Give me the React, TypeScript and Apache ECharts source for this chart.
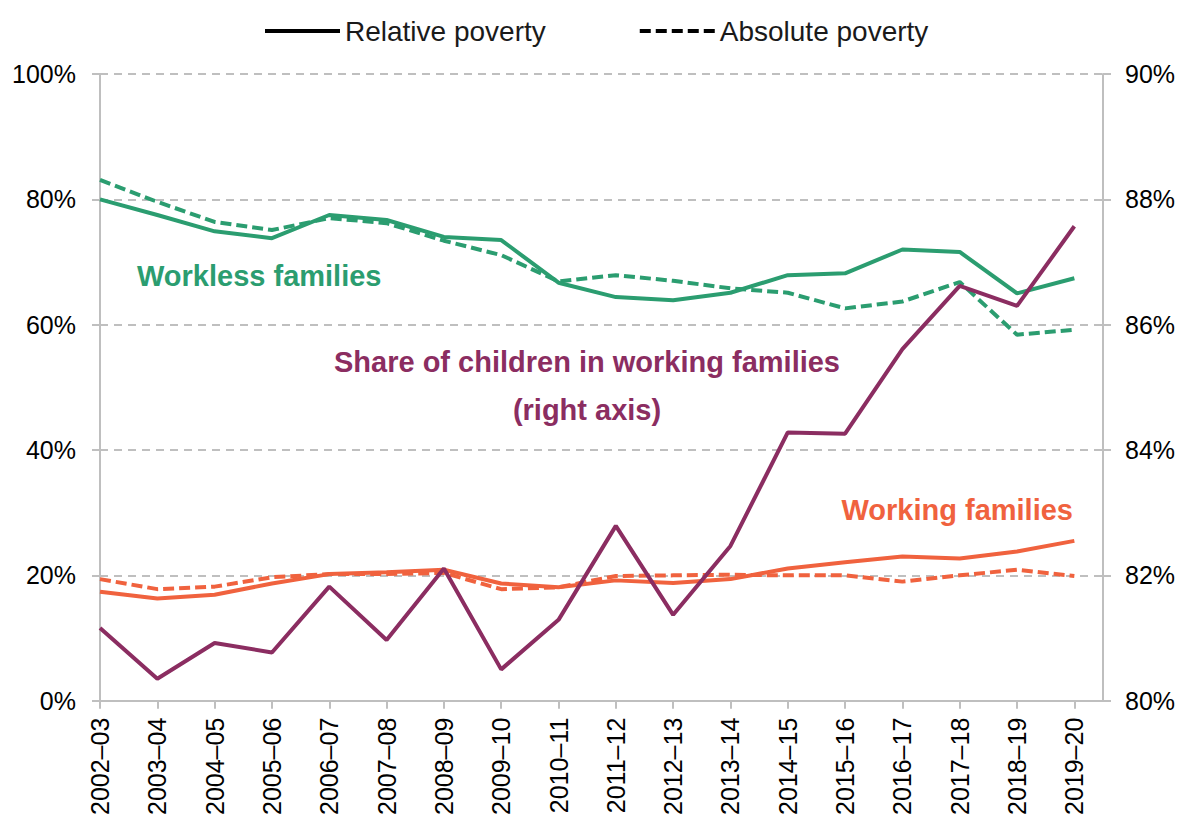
import React, { useEffect, useRef } from 'react';
import * as echarts from 'echarts';

const years = [
  '2002–03', '2003–04', '2004–05', '2005–06', '2006–07', '2007–08',
  '2008–09', '2009–10', '2010–11', '2011–12', '2012–13', '2013–14',
  '2014–15', '2015–16', '2016–17', '2017–18', '2018–19', '2019–20',
];

// left axis, % of children in poverty
const worklessRelative = [80.0, 77.5, 74.9, 73.8, 77.5, 76.7, 74.0, 73.5, 66.7, 64.4, 63.9, 65.1, 67.9, 68.2, 72.0, 71.6, 65.0, 67.4];
const worklessAbsolute = [83.1, 79.6, 76.4, 75.1, 77.0, 76.2, 73.4, 71.1, 66.9, 67.9, 67.0, 65.8, 65.1, 62.6, 63.7, 66.8, 58.4, 59.2];
const workingRelative = [17.4, 16.3, 16.9, 18.7, 20.2, 20.5, 20.9, 18.7, 18.1, 19.2, 18.8, 19.4, 21.1, 22.1, 23.0, 22.7, 23.8, 25.5];
const workingAbsolute = [19.4, 17.8, 18.2, 19.7, 20.2, 20.2, 20.4, 17.8, 18.1, 19.9, 20.0, 20.1, 20.0, 20.0, 19.0, 20.0, 20.9, 19.9];

// right axis, share of children in working families
const shareWorking = [81.16, 80.35, 80.92, 80.77, 81.82, 80.97, 82.11, 80.5, 81.29, 82.79, 81.37, 82.47, 84.28, 84.26, 85.61, 86.62, 86.3, 87.57];

const leftTicks = [0, 20, 40, 60, 80, 100];
const rightTicks = [80, 82, 84, 86, 88, 90];

const GREEN = '#2b9d70';
const ORANGE = '#f0623e';
const PURPLE = '#8b2d61';
const GREY = '#bfbfbf';
const FONT = '"Liberation Sans", Arial, sans-serif';
const LW = 4;
const DASH = [11, 5];

const pairs = (arr: number[]) => arr.map((v, i) => [i, v]);

const App: React.FC = () => {
  const chartRef = useRef<HTMLDivElement>(null);

  useEffect(() => {
    if (!chartRef.current) return;
    const chart = echarts.init(chartRef.current, null, { renderer: 'svg' });
    const idx = years.map((_, i) => i);

    const option = {
      animation: false,
      textStyle: { fontFamily: FONT },
      grid: { left: 100, right: 78, top: 74, bottom: 120.3 },
      legend: {
        data: ['Relative poverty', 'Absolute poverty'],
        left: 258,
        top: 12,
        itemWidth: 75,
        itemHeight: 14,
        itemGap: 92,
        itemStyle: { opacity: 0 },
        lineStyle: { width: 4 },
        textStyle: { fontSize: 28, color: '#1a1a1a', fontFamily: FONT },
      },
      xAxis: {
        type: 'value',
        min: 0,
        max: 17.5,
        interval: 1,
        axisLine: { show: true, lineStyle: { color: GREY, width: 2 } },
        axisTick: { show: true, length: 8, lineStyle: { color: GREY, width: 2 }, customValues: idx },
        splitLine: { show: false },
        axisLabel: {
          customValues: idx,
          rotate: 90,
          margin: 17,
          fontSize: 25,
          color: '#000',
          fontFamily: FONT,
          formatter: (v: number) => (Number.isInteger(v) ? years[v] ?? '' : ''),
        },
      },
      yAxis: [
        {
          type: 'value',
          min: leftTicks[0],
          max: leftTicks[leftTicks.length - 1],
          interval: 20,
          axisLine: { show: true, lineStyle: { color: GREY, width: 2 } },
          axisTick: { show: true, length: 8, lineStyle: { color: GREY, width: 2 } },
          splitLine: { show: true, lineStyle: { color: GREY, type: [8, 6], width: 2 } },
          axisLabel: { margin: 24, fontSize: 25, color: '#000', fontFamily: FONT, formatter: '{value}%' },
        },
        {
          type: 'value',
          min: rightTicks[0],
          max: rightTicks[rightTicks.length - 1],
          interval: 2,
          position: 'right',
          axisLine: { show: true, lineStyle: { color: GREY, width: 2 } },
          axisTick: { show: true, length: 8, lineStyle: { color: GREY, width: 2 } },
          splitLine: { show: false },
          axisLabel: { margin: 22, fontSize: 25, color: '#000', fontFamily: FONT, formatter: '{value}%' },
        },
      ],
      series: [
        { name: 'Relative poverty', type: 'line', data: [], symbol: 'none', lineStyle: { color: '#000', width: LW }, itemStyle: { color: '#000' } },
        { name: 'Absolute poverty', type: 'line', data: [], symbol: 'none', lineStyle: { color: '#000', width: LW, type: DASH }, itemStyle: { color: '#000' } },
        { name: 'Working absolute', type: 'line', data: pairs(workingAbsolute), symbol: 'none', lineStyle: { color: ORANGE, width: LW, type: DASH } },
        { name: 'Working relative', type: 'line', data: pairs(workingRelative), symbol: 'none', lineStyle: { color: ORANGE, width: LW } },
        { name: 'Workless absolute', type: 'line', data: pairs(worklessAbsolute), symbol: 'none', lineStyle: { color: GREEN, width: LW, type: DASH } },
        { name: 'Workless relative', type: 'line', data: pairs(worklessRelative), symbol: 'none', lineStyle: { color: GREEN, width: LW } },
        { name: 'Share working', type: 'line', yAxisIndex: 1, data: pairs(shareWorking), symbol: 'none', lineStyle: { color: PURPLE, width: LW } },
      ],
      graphic: [
        {
          type: 'text', left: 137, top: 261,
          style: { text: 'Workless families', fill: GREEN, font: `bold 29px ${FONT}` },
        },
        {
          type: 'text', x: 587, y: 362,
          style: { text: 'Share of children in working families', fill: PURPLE, font: `bold 29px ${FONT}`, textAlign: 'center', textVerticalAlign: 'middle' },
        },
        {
          type: 'text', x: 587, y: 410,
          style: { text: '(right axis)', fill: PURPLE, font: `bold 29px ${FONT}`, textAlign: 'center', textVerticalAlign: 'middle' },
        },
        {
          type: 'text', x: 1073, y: 510,
          style: { text: 'Working families', fill: ORANGE, font: `bold 29px ${FONT}`, textAlign: 'right', textVerticalAlign: 'middle' },
        },
      ],
    };

    chart.setOption(option);
    return () => {
      chart.dispose();
    };
  }, []);

  return (
    <div
      ref={chartRef}
      style={{ position: 'absolute', left: 0, top: 0, width: '1181px', height: '821px', background: '#fff' }}
    />
  );
};

export default App;
